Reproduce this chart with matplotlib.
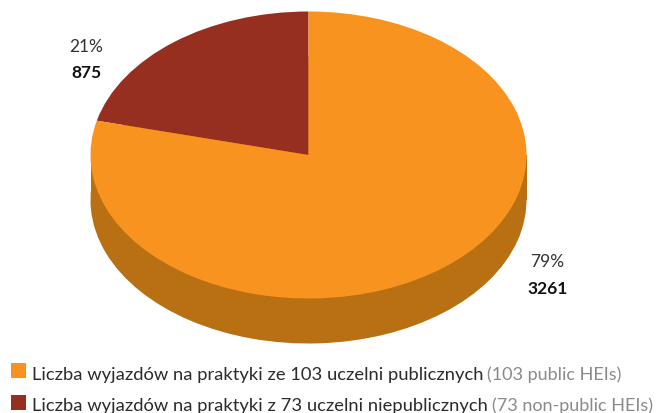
import matplotlib
matplotlib.use('Agg')
import matplotlib.pyplot as plt
from matplotlib.patches import Rectangle

values = [875, 3261]
percents = ['21%', '79%']
counts = ['875', '3261']
legend_main = ['Liczba wyjazdów na praktyki ze 103 uczelni publicznych ',
               'Liczba wyjazdów na praktyki z 73 uczelni niepublicznych ']
legend_en = ['(103 public HEIs)', '(73 non-public HEIs)']
colors = ['#962F1F', '#F7931E']
side_colors = ['#B87012', '#B87012']

W, H = 658, 414
cx, cy = 308.5, 156      # srodek elipsy w pikselach
rx, ry = 218, 143.5
depth = 45 / ry

plt.rcParams['font.family'] = ['Lato', 'DejaVu Sans']

fig = plt.figure(figsize=(W / 100, H / 100), dpi=100)
ax = fig.add_axes([0, 0, 1, 1])

# bok "3D": ta sama kolowa pod spodem plus pas do srodka
ax.pie(values, colors=side_colors, startangle=90, radius=1, center=(0, -depth))
ax.bar(0, depth, width=2, bottom=-depth, color=side_colors[0], linewidth=0)
ax.pie(values, colors=colors, startangle=90, radius=1, center=(0, 0))

ax.set_aspect('auto')
ax.set_xlim(-cx / rx, (W - cx) / rx)
ax.set_ylim(-(H - cy) / ry, cy / ry)
ax.axis('off')


def px(x, y):
    return x / W, 1 - y / H


# etykiety
fig.text(*px(86, 47), percents[0], fontsize=12.5, color='#333333', ha='center', va='center')
fig.text(*px(86, 73), counts[0], fontsize=12.5, fontweight='bold', color='#111111', ha='center', va='center')
fig.text(*px(547, 262), percents[1], fontsize=12.5, color='#333333', ha='center', va='center')
fig.text(*px(548, 289), counts[1], fontsize=12.5, fontweight='bold', color='#111111', ha='center', va='center')

# legenda
rows = [380, 411]
renderer = fig.canvas.get_renderer()
for i, base in enumerate(rows):
    fig.add_artist(Rectangle(px(11, base - 1 + i * 1), 15 / W, 15 / H, transform=fig.transFigure,
                             facecolor=colors[1 - i], edgecolor='none'))
    t = fig.text(*px(32, base), legend_main[i], fontsize=13.2, color='#2b2b2b', va='baseline', ha='left')
    ext = t.get_window_extent(renderer)
    fig.text((ext.x1 - 1) / W, 1 - base / H, legend_en[i], fontsize=13.0, color='#8a8a8a', va='baseline', ha='left')

fig.savefig('out.png', dpi=100)
